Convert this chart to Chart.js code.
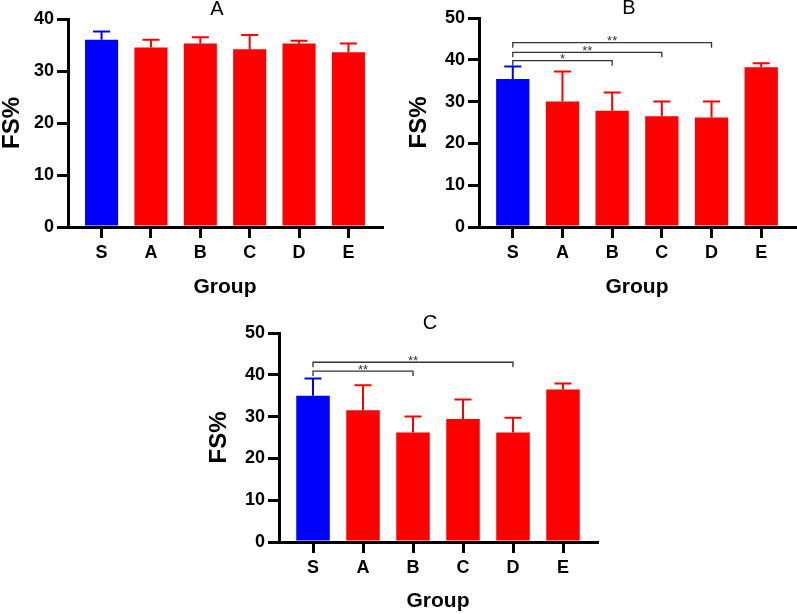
<!DOCTYPE html>
<html>
<head>
<meta charset="utf-8">
<script src="https://cdn.jsdelivr.net/npm/chart.js@4"></script>
<style>
  body { margin: 0; background: #fff; }
  canvas { position: absolute; }
</style>
</head>
<body>
<canvas id="chartA" width="400" height="300" style="left:0;top:0"></canvas>
<canvas id="chartB" width="397" height="300" style="left:400px;top:0"></canvas>
<canvas id="chartC" width="400" height="314" style="left:200px;top:300px"></canvas>
<script>
const groups = ['S', 'A', 'B', 'C', 'D', 'E'];
const barColors = ['#0000ff', '#ff0000', '#ff0000', '#ff0000', '#ff0000', '#ff0000'];

// panel A
const meanA = [36.0, 34.5, 35.3, 34.2, 35.3, 33.6];
const sdA = [1.6, 1.5, 1.2, 2.7, 0.5, 1.7];
// panel B
const meanB = [35.4, 30.0, 27.8, 26.5, 26.2, 38.2];
const sdB = [3.0, 7.2, 4.4, 3.5, 3.8, 1.0];
const sigToB = [2, 3, 4];
const sigLevelB = [39.8, 41.8, 44.1];
const sigLabelB = ['*', '**', '**'];
// panel C
const meanC = [35.0, 31.5, 26.2, 29.4, 26.2, 36.5];
const sdC = [4.1, 6.0, 3.8, 4.7, 3.5, 1.4];
const sigToC = [2, 4];
const sigLevelC = [40.9, 43.0];
const sigLabelC = ['**', '**'];

const FONT = "'Liberation Sans', Arial, sans-serif";

// error bars, significance brackets and panel title
function makeOverlay(means, sd, title, sigTo, sigLevel, sigLabel) {
    return {
        id: 'overlay',
        afterDatasetsDraw(chart) {
            const {ctx, chartArea, scales: {x, y}} = chart;
            ctx.save();
            ctx.lineWidth = 2;
            means.forEach((m, i) => {
                const px = x.getPixelForValue(i);
                const top = y.getPixelForValue(m + sd[i]);
                ctx.strokeStyle = barColors[i];
                ctx.beginPath();
                ctx.moveTo(px, y.getPixelForValue(m));
                ctx.lineTo(px, top);
                ctx.moveTo(px - 8.5, top);
                ctx.lineTo(px + 8.5, top);
                ctx.stroke();
            });
            ctx.strokeStyle = '#333';
            ctx.fillStyle = '#333';
            ctx.lineWidth = 1.3;
            ctx.font = '13px ' + FONT;
            ctx.textAlign = 'center';
            ctx.textBaseline = 'alphabetic';
            sigTo.forEach((to, k) => {
                const x1 = x.getPixelForValue(0);
                const x2 = x.getPixelForValue(to);
                const py = y.getPixelForValue(sigLevel[k]);
                ctx.beginPath();
                ctx.moveTo(x1, py + 5);
                ctx.lineTo(x1, py);
                ctx.lineTo(x2, py);
                ctx.lineTo(x2, py + 5);
                ctx.stroke();
                ctx.fillText(sigLabel[k], (x1 + x2) / 2, py + 2.5);
            });
            ctx.fillStyle = '#000';
            ctx.font = '20px ' + FONT;
            ctx.textBaseline = 'middle';
            ctx.fillText(title, (chartArea.left + chartArea.right) / 2 - 8, chartArea.top - 10);
            ctx.restore();
        }
    };
}

function makeChart(id, means, sd, yMax, title, padding, yWidth, xHeight, sigTo, sigLevel, sigLabel) {
    return new Chart(document.getElementById(id), {
        type: 'bar',
        data: {
            datasets: [{
                data: means.map((v, i) => ({x: i, y: v})),
                backgroundColor: barColors,
                borderWidth: 0,
                barPercentage: 0.67,
                categoryPercentage: 1
            }]
        },
        options: {
            responsive: false,
            animation: false,
            layout: {padding: padding},
            plugins: {legend: {display: false}, tooltip: {enabled: false}},
            scales: {
                x: {
                    type: 'linear',
                    min: -0.68,
                    max: 5.68,
                    offset: false,
                    afterFit: s => { s.height = xHeight; },
                    grid: {drawOnChartArea: false, offset: false, tickLength: 11, lineWidth: 3, color: '#000'},
                    border: {width: 3, color: '#000'},
                    ticks: {
                        stepSize: 1,
                        includeBounds: false,
                        autoSkip: false,
                        maxRotation: 0,
                        padding: 4,
                        color: '#000',
                        font: {family: FONT, size: 18, weight: 'bold'},
                        callback: v => groups[v]
                    },
                    title: {display: true, text: 'Group', color: '#000', padding: 0,
                            font: {family: FONT, size: 21, weight: 'bold'}}
                },
                y: {
                    min: 0,
                    max: yMax,
                    afterFit: s => { s.width = yWidth; },
                    grid: {drawOnChartArea: false, tickLength: 11, lineWidth: 3, color: '#000'},
                    border: {width: 3, color: '#000'},
                    ticks: {
                        stepSize: 10,
                        padding: 3,
                        color: '#000',
                        font: {family: FONT, size: 18, weight: 'bold'}
                    },
                    title: {display: true, text: 'FS%', color: '#000', padding: 0,
                            font: {family: FONT, size: 24, weight: 'bold', lineHeight: 1}}
                }
            }
        },
        plugins: [makeOverlay(means, sd, title, sigTo, sigLevel, sigLabel)]
    });
}

makeChart('chartA', meanA, sdA, 40, 'A', {left: 0, right: 18, top: 19, bottom: 0}, 68, 73, [], [], []);
makeChart('chartB', meanB, sdB, 50, 'B', {left: 7, right: 2, top: 18, bottom: 0}, 72, 73, sigToB, sigLevelB, sigLabelB);
makeChart('chartC', meanC, sdC, 50, 'C', {left: 7, right: 3, top: 33, bottom: 0}, 72, 72, sigToC, sigLevelC, sigLabelC);
</script>
</body>
</html>
